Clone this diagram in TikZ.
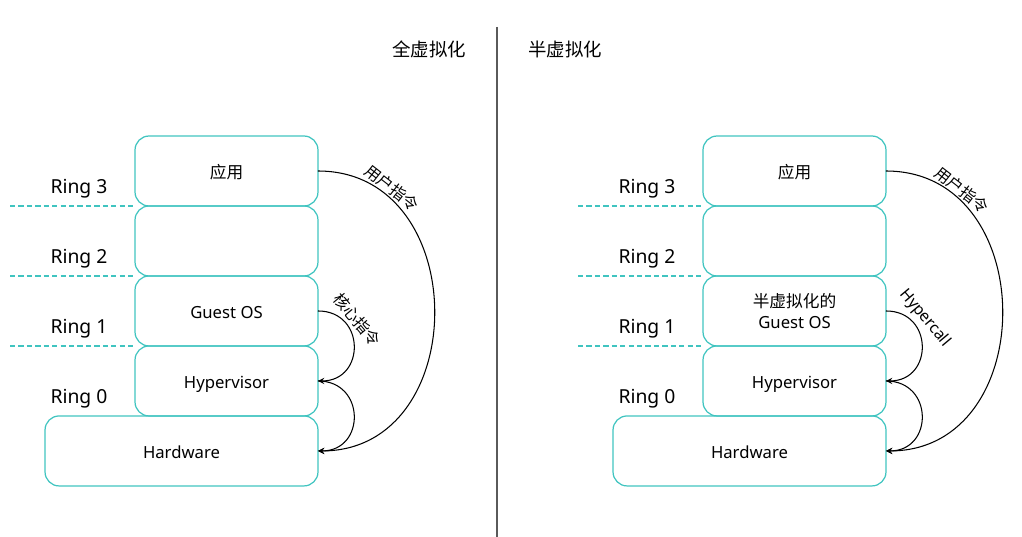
\documentclass[tikz,border=0pt]{standalone}
\usepackage{fontspec}
\setmainfont{Noto Sans}
\newfontfamily\cjk{Noto Sans CJK SC}
\usetikzlibrary{positioning}
\definecolor{ringteal}{RGB}{64,196,192}
\definecolor{divgray}{RGB}{90,90,90}
\tikzset{
  layer/.style={draw=ringteal, line width=0.7pt, rounded corners=8pt, minimum width=3.66cm, minimum height=1.4cm, inner sep=0pt, outer sep=0pt, align=center, text height=9pt, text depth=0pt, font=\fontsize{9.5}{11.5}\selectfont},
  widelayer/.style={layer, minimum width=5.46cm},
  ringline/.style={ringteal, line width=0.8pt, dash pattern=on 3pt off 1.8pt},
  ringlabel/.style={font=\fontsize{11}{13}\selectfont},
  heading/.style={font=\cjk\fontsize{10.5}{12}\selectfont},
  call/.style={line width=0.6pt, ->, >=stealth},
  calllabel/.style={font=\cjk\fontsize{9}{10}\selectfont, inner sep=0pt}
}

\begin{document}
\begin{tikzpicture}[x=0.02cm, y=-0.02cm]
			\useasboundingbox (0,0) rectangle (1022,537);
			% divider and titles
			\coordinate (divtop) at (497,27);
			\coordinate (divbot) at (497,537);
			\draw[divgray, line width=0.8pt] (divtop) -- (divbot);
			\node[heading] (tfull) at (429,49) {全虚拟化};
			\node[heading] (tpara) at (565,49) {半虚拟化};

			% full virtualization
			\coordinate (lstart) at (10,0);
			\node[layer] (lapp) at (226.5,171) {\cjk 应用};
			\node[layer, below=0pt of lapp] (lr2) {};
			\node[layer, below=0pt of lr2] (lguest) {Guest OS};
			\node[layer, below=0pt of lguest] (lhyp) {Hypervisor};
			\node[widelayer, anchor=north east] (lhw) at (lhyp.south east) {Hardware};
			\foreach \b in {lr2, lguest, lhyp}
				\draw[ringline] (\b.north west -| lstart) -- (\b.north west);
			\foreach \n/\y in {3/189, 2/259, 1/329, 0/399}
				\node[ringlabel] (lring\n) at (79,\y) {Ring \n};
			\draw[call] (lapp.east) to[out=0, in=0, looseness=1.42] (lhw.east);
			\draw[call] (lguest.east) to[out=0, in=0, looseness=1.75] (lhyp.east);
			\draw[call] (lhyp.east) to[out=0, in=0, looseness=1.75] (lhw.east);
			\node[calllabel, rotate=-38] (luser) at (392,188) {用户指令};
			\node[calllabel, rotate=-50] (lcore) at (357,320) {核心指令};

			% para-virtualization
			\begin{scope}[shift={(568,0)}]
			\coordinate (rstart) at (10,0);
			\node[layer] (rapp) at (226.5,171) {\cjk 应用};
			\node[layer, below=0pt of rapp] (rr2) {};
			\node[layer, below=0pt of rr2, text height=, text depth=] (rguest) {{\cjk 半虚拟化的}\\Guest OS};
			\node[layer, below=0pt of rguest] (rhyp) {Hypervisor};
			\node[widelayer, anchor=north east] (rhw) at (rhyp.south east) {Hardware};
			\foreach \b in {rr2, rguest, rhyp}
				\draw[ringline] (\b.north west -| rstart) -- (\b.north west);
			\foreach \n/\y in {3/189, 2/259, 1/329, 0/399}
				\node[ringlabel] (rring\n) at (79,\y) {Ring \n};
			\draw[call] (rapp.east) to[out=0, in=0, looseness=1.42] (rhw.east);
			\draw[call] (rguest.east) to[out=0, in=0, looseness=1.75] (rhyp.east);
			\draw[call] (rhyp.east) to[out=0, in=0, looseness=1.75] (rhw.east);
			\node[calllabel, rotate=-38] (ruser) at (394,190) {用户指令};
			\node[calllabel, font=\fontsize{9}{10}\selectfont, rotate=-50] (rhcall) at (357,318) {Hypercall};
			\end{scope}
		\end{tikzpicture}
\end{document}
